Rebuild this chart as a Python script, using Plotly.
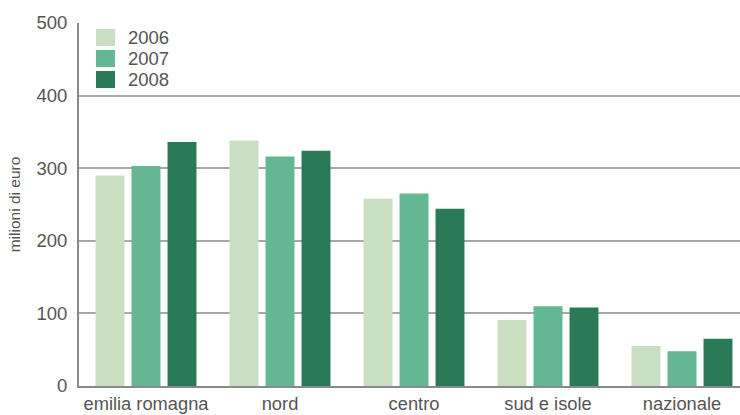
import plotly.graph_objects as go

# Spesa (milioni di euro) per area geografica e anno
categories = ["emilia romagna", "nord", "centro", "sud e isole", "nazionale"]
years = ["2006", "2007", "2008"]
values_2006 = [290, 338, 258, 91, 55]
values_2007 = [303, 316, 265, 110, 48]
values_2008 = [336, 324, 244, 108, 65]
y_ticks = [0, 100, 200, 300, 400, 500]

colors = ["#cadfc1", "#64b793", "#2a7a57"]
series = [values_2006, values_2007, values_2008]

W, H = 740, 415
M_L, M_R, M_T, M_B = 79, 0, 23, 29
FONT = "Liberation Sans, Arial, sans-serif"
TEXT_COLOR = "#555555"

fig = go.Figure()
for name, vals, col in zip(years, series, colors):
    fig.add_trace(go.Bar(
        x=categories, y=vals, name=name,
        marker=dict(color=col, line=dict(width=0)),
        showlegend=False,
    ))

# legend drawn as swatches + labels in paper coordinates
plot_w = W - M_L - M_R
plot_h = H - M_T - M_B


def px_x(x):
    return (x - M_L) / plot_w


def px_y(y):
    return (H - M_B - y) / plot_h


shapes = []
annotations = []
for i, (name, col) in enumerate(zip(years, colors)):
    top = 29 + i * 21
    shapes.append(dict(
        type="rect", xref="paper", yref="paper",
        x0=px_x(96), x1=px_x(115), y0=px_y(top + 17), y1=px_y(top),
        fillcolor=col, line=dict(width=0),
    ))
    annotations.append(dict(
        xref="paper", yref="paper", x=px_x(126), y=px_y(top + 8.5),
        text=name, showarrow=False, xanchor="left", yanchor="middle",
        font=dict(family=FONT, size=18.5, color=TEXT_COLOR),
    ))

fig.update_layout(
    width=W, height=H,
    margin=dict(l=M_L, r=M_R, t=M_T, b=M_B, pad=0),
    paper_bgcolor="white", plot_bgcolor="white",
    barmode="group", bargap=0.194, bargroupgap=0.196,
    font=dict(family=FONT, size=18, color=TEXT_COLOR),
    shapes=shapes, annotations=annotations,
    xaxis=dict(
        range=[-0.5, -0.5 + plot_w / 134.0],
        showgrid=False, zeroline=False,
        showline=True, linecolor="#8a8a8a", linewidth=2,
        ticks="", ticklabelstandoff=0, automargin=False,
        tickfont=dict(family=FONT, size=18.3, color=TEXT_COLOR),
        fixedrange=True,
    ),
    yaxis=dict(
        range=[0, 500], tickvals=y_ticks,
        showgrid=True, gridcolor="#a8a8a8", gridwidth=1.5,
        zeroline=False,
        showline=True, linecolor="#8a8a8a", linewidth=2,
        ticks="", ticklabelstandoff=6, automargin=False,
        tickfont=dict(family=FONT, size=18.5, color=TEXT_COLOR),
        title=dict(text="milioni di euro", standoff=12,
                   font=dict(family=FONT, size=15.5, color=TEXT_COLOR)),
        fixedrange=True,
    ),
)

fig.write_html("out.html", config={"displayModeBar": False})
